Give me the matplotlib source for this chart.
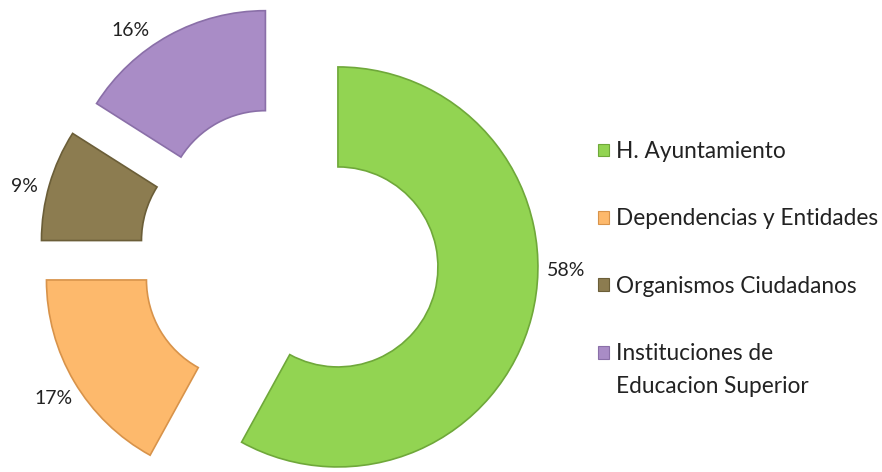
import matplotlib.pyplot as plt
import matplotlib.patches as mpatches

# Datos del grafico
categorias = ['H. Ayuntamiento', 'Dependencias y Entidades', 'Organismos Ciudadanos',
              'Instituciones de']
categoria_extra = 'Educacion Superior'   # segunda linea de la ultima entrada
porcentajes = [58, 17, 9, 16]
colores = ['#92d452', '#fdb96c', '#8c7c50', '#a98cc6']
bordes = ['#6fa83a', '#d8934a', '#6b5e38', '#8a6fa8']

plt.rcParams['font.family'] = ['Lato', 'DejaVu Sans']

fig = plt.figure(figsize=(8.82, 4.72), dpi=100)
ax = fig.add_axes([0, 0, 1, 1])

# ejes en pixeles (y hacia arriba)
wedges, _ = ax.pie(porcentajes, center=(289.5, 217.5), radius=200,
                   startangle=90, counterclock=False,
                   explode=[50] * len(porcentajes), colors=colores,
                   wedgeprops=dict(width=100, linewidth=1.2))
for w, b in zip(wedges, bordes):
    w.set_edgecolor(b)

ax.set_xlim(0, 882)
ax.set_ylim(0, 472)
ax.set_aspect('equal')
ax.axis('off')

# etiquetas de porcentaje (posiciones como en Excel)
pos_etiquetas = [(566, 201), (54, 73), (24, 285), (131, 442)]
for p, (x, y) in zip(porcentajes, pos_etiquetas):
    ax.text(x, y, '%d%%' % p, ha='center', va='center', fontsize=14, color='#222222')

handles = [mpatches.Patch(facecolor=c, edgecolor=b, linewidth=0.8) for c, b in zip(colores, bordes)]
leg = fig.legend(handles, categorias, loc='upper left', bbox_to_anchor=(598 / 882, 1 - 141 / 472),
                 frameon=False, fontsize=16.3, handlelength=0.5, handleheight=0.5,
                 handletextpad=0.3, labelspacing=2.05, borderpad=0, borderaxespad=0,
                 labelcolor='#222222')

# segunda linea de la ultima entrada, debajo del texto
fig.canvas.draw()
bb = leg.get_texts()[-1].get_window_extent()
fig.text(bb.x0 / 882, (bb.y0 - 12) / 472, categoria_extra, ha='left', va='top',
         fontsize=16.3, color='#222222')

fig.savefig('out.png', dpi=100)
